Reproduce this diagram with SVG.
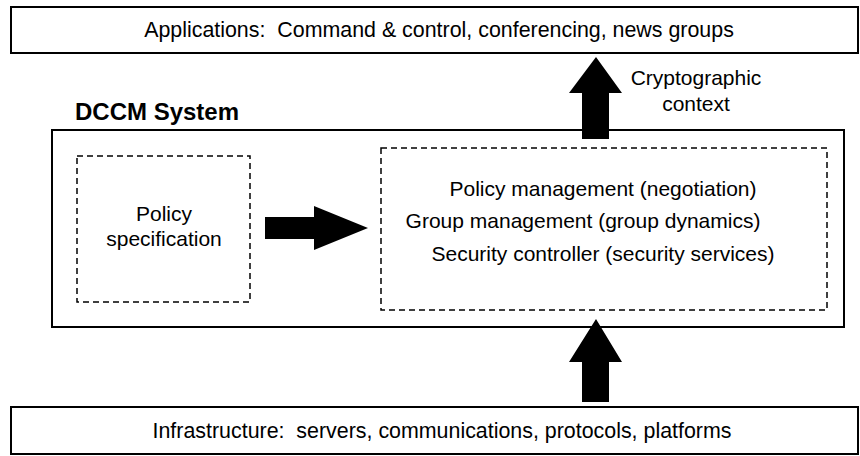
<svg xmlns="http://www.w3.org/2000/svg" width="860" height="456" viewBox="0 0 860 456">
<style>
.box{fill:#fff;stroke:#000;stroke-width:2}
.dash{fill:none;stroke:#000;stroke-width:1.5;stroke-dasharray:6,4}
.t{font-family:"Liberation Sans",Arial,sans-serif;font-size:21px;fill:#000;white-space:pre}
.w{font-size:21.4px}
.c{text-anchor:middle}
.b{font-weight:bold;font-size:24px}
.arrow{fill:#000;stroke:none}
</style>
<rect width="860" height="456" fill="#fff"/>
<g id="applications">
<rect class="box" x="11" y="7" width="847" height="46"/>
<text class="t w c" x="439" y="37" xml:space="preserve">Applications:  Command &amp; control, conferencing, news groups</text>
</g>
<g id="dccm-system">
<rect class="box" x="52" y="130" width="792" height="197"/>
<text class="t b" x="75" y="120">DCCM System</text>
</g>
<g id="policy-specification">
<rect class="dash" x="77" y="156" width="173" height="146"/>
<text class="t c" x="164" y="221">Policy</text>
<text class="t c" x="164" y="246">specification</text>
</g>
<g id="management">
<rect class="dash" x="381" y="148" width="446" height="162"/>
<text class="t c" x="603" y="196">Policy management (negotiation)</text>
<text class="t c" x="583" y="228">Group management (group dynamics)</text>
<text class="t c" x="603" y="261">Security controller (security services)</text>
</g>
<g id="infrastructure">
<rect class="box" x="11" y="407" width="847" height="47"/>
<text class="t w c" x="442" y="438" xml:space="preserve">Infrastructure:  servers, communications, protocols, platforms</text>
</g>
<g id="connectors">
<polygon class="arrow" points="265,217 314,217 314,206 368,228 314,250 314,239 265,239"/>
<polygon class="arrow" points="582,139 582,93 569,93 596,57 622,93 609,93 609,139"/>
<text class="t c" x="696" y="85">Cryptographic</text>
<text class="t c" x="696" y="111">context</text>
<polygon class="arrow" points="582,402 582,362 569,362 596,319 622,362 609,362 609,402"/>
</g>
</svg>
